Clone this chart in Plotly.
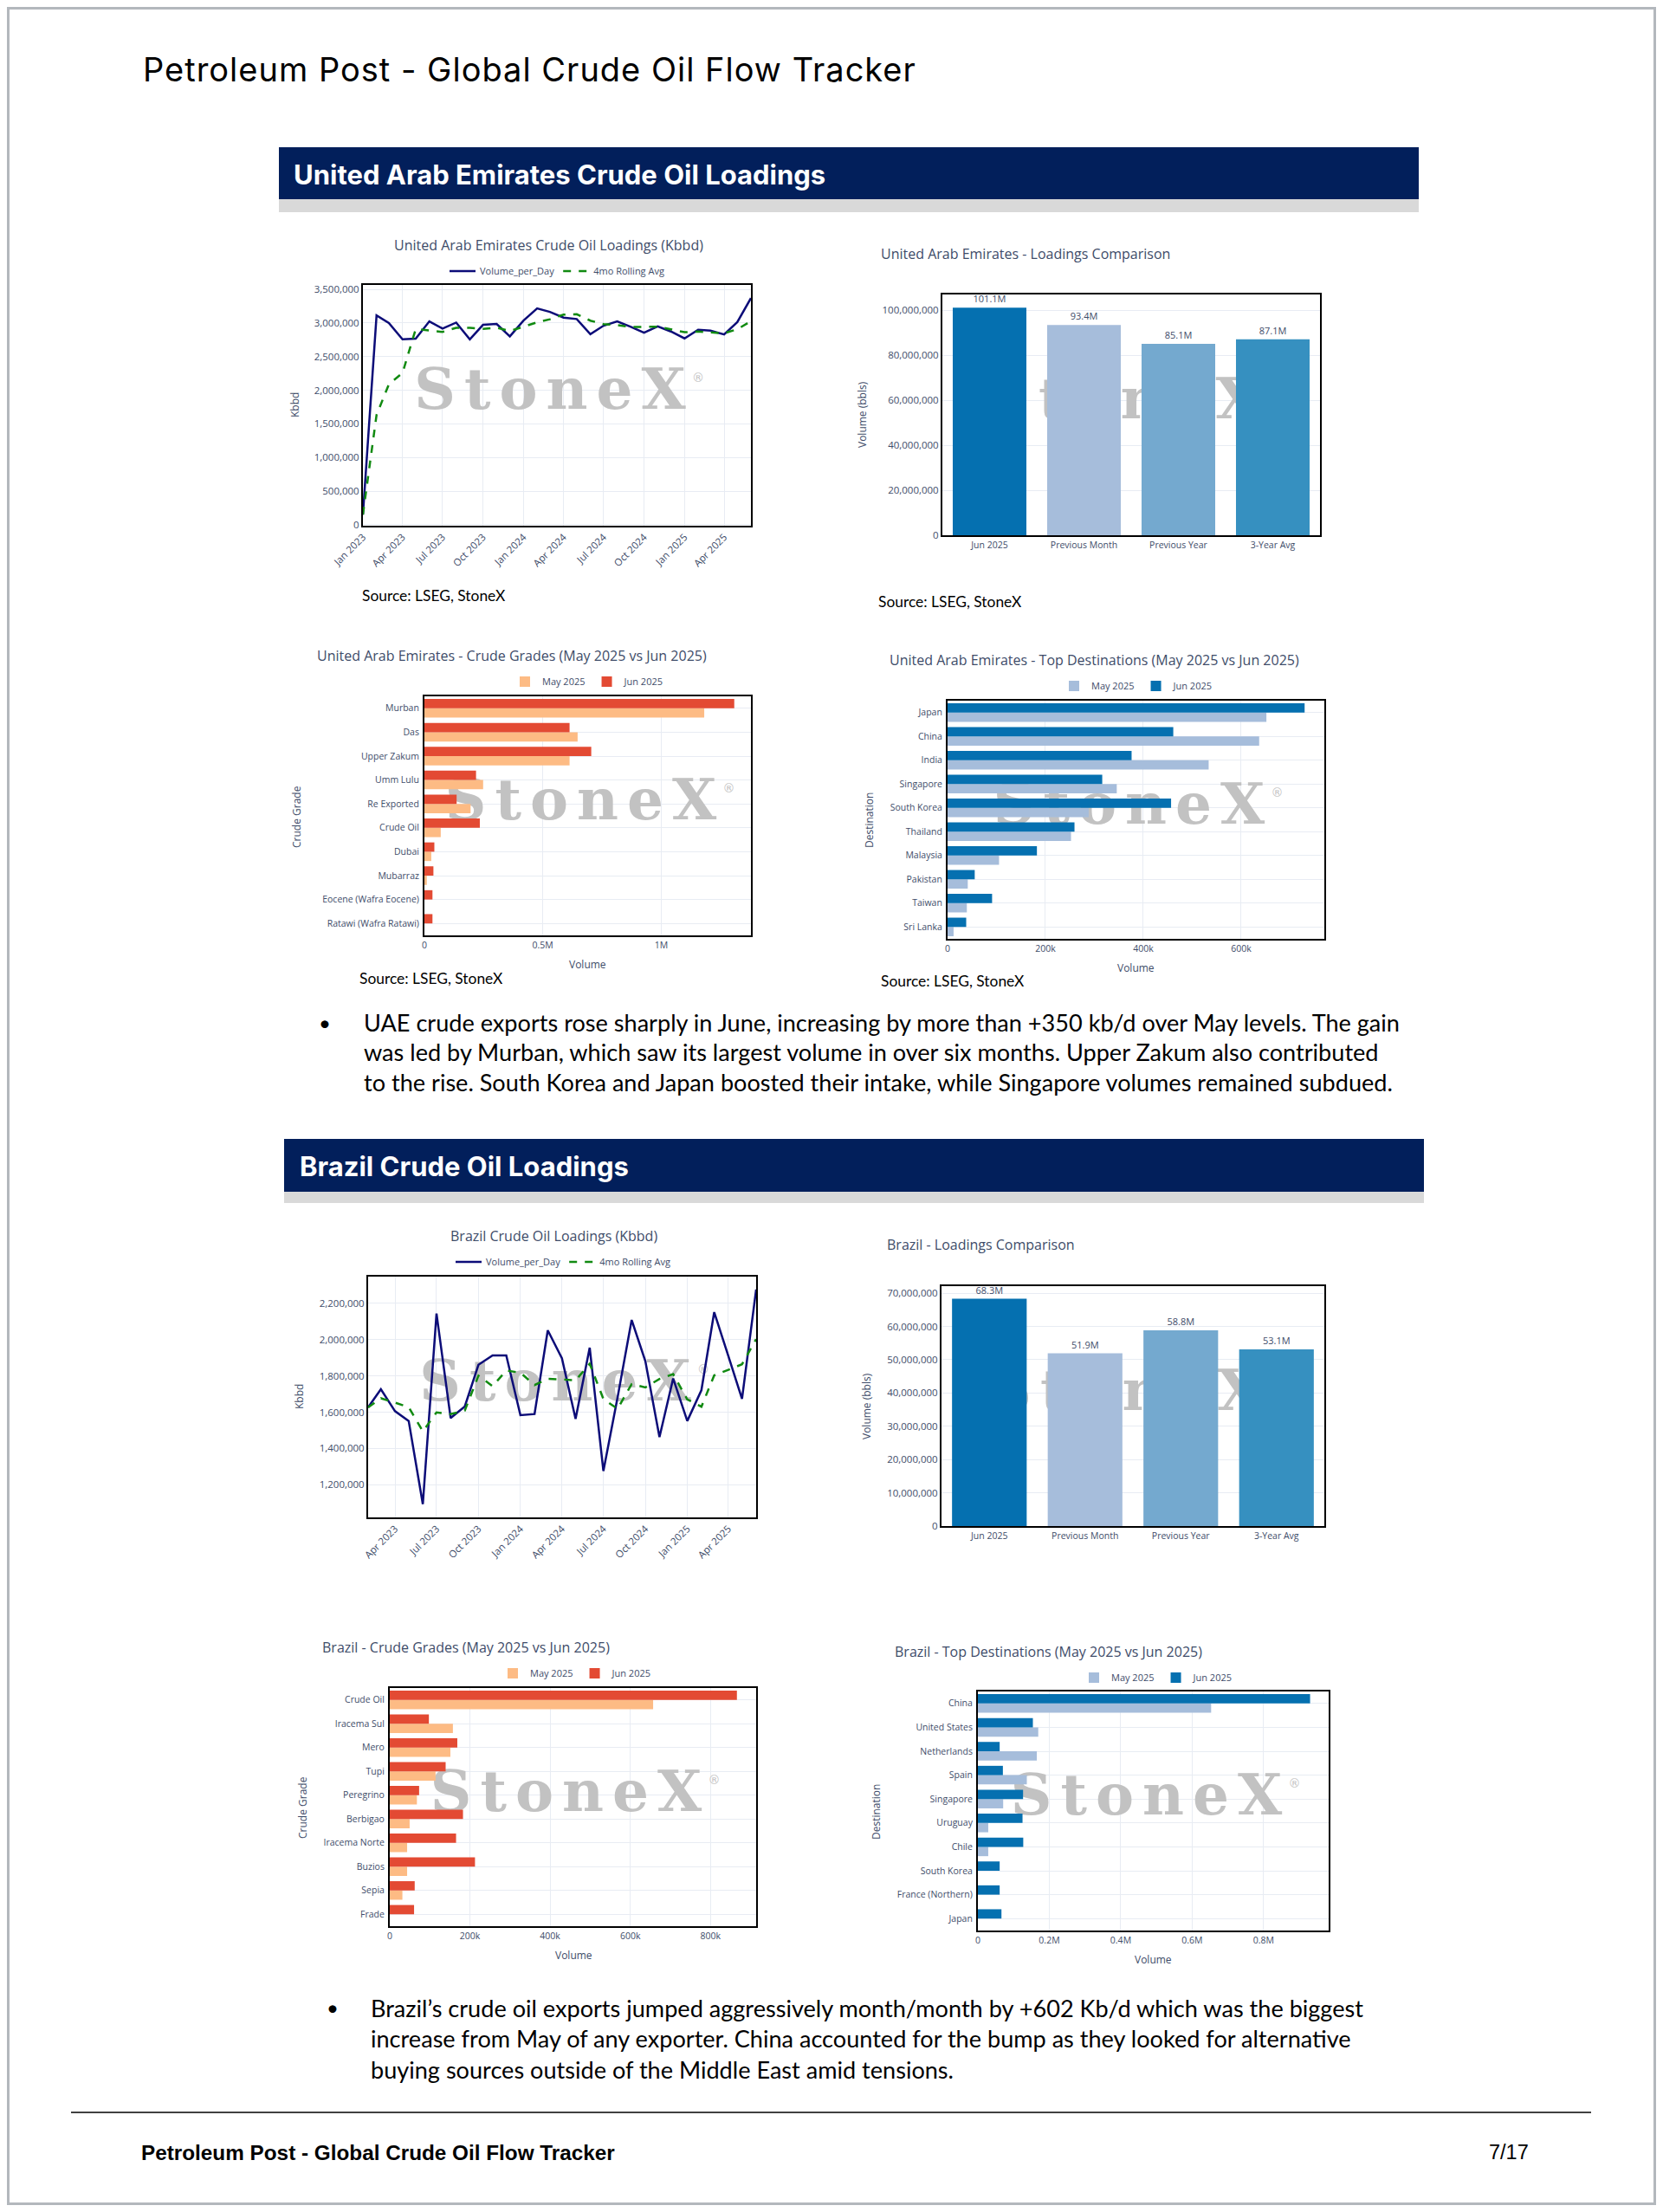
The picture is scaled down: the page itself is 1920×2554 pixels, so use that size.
import plotly.graph_objects as go

# page is 1920x2554; the figure sits inside the default 8px body margin
PAGE_W, PAGE_H = 1920, 2554
OX, OY = 8, 8
FW, FH = PAGE_W - 2 * OX, PAGE_H - 2 * OY

# ----------------------------- data -----------------------------
UAE_MONTHS = ["2023-01", "2023-02", "2023-03", "2023-04", "2023-05", "2023-06", "2023-07", "2023-08",
              "2023-09", "2023-10", "2023-11", "2023-12", "2024-01", "2024-02", "2024-03", "2024-04",
              "2024-05", "2024-06", "2024-07", "2024-08", "2024-09", "2024-10", "2024-11", "2024-12",
              "2025-01", "2025-02", "2025-03", "2025-04", "2025-05", "2025-06"]
UAE_VOLUME = [150000, 3113000, 3000000, 2757000, 2766000, 3023000, 2916000, 3006000,
              2757000, 2972000, 2985000, 2800000, 3036000, 3217000, 3165000, 3079000,
              3058000, 2834000, 2959000, 3023000, 2942000, 2856000, 2950000, 2873000,
              2770000, 2899000, 2886000, 2830000, 3013000, 3370000]
UAE_ROLLING = [150000, 1632000, 2088000, 2255000, 2909000, 2887000, 2866000, 2928000,
               2926000, 2913000, 2930000, 2879000, 2948000, 3010000, 3055000, 3124000,
               3130000, 3034000, 2983000, 2969000, 2940000, 2945000, 2943000, 2905000,
               2862000, 2873000, 2857000, 2846000, 2907000, 3025000]

BRA_MONTHS = ["2023-02", "2023-03", "2023-04", "2023-05", "2023-06", "2023-07", "2023-08",
              "2023-09", "2023-10", "2023-11", "2023-12", "2024-01", "2024-02", "2024-03", "2024-04",
              "2024-05", "2024-06", "2024-07", "2024-08", "2024-09", "2024-10", "2024-11", "2024-12",
              "2025-01", "2025-02", "2025-03", "2025-04", "2025-05", "2025-06"]
BRA_VOLUME = [1627000, 1727000, 1606000, 1552000, 1093000, 2144000, 1568000,
              1632000, 1862000, 1913000, 1913000, 1584000, 1590000, 2052000, 1898000,
              1563000, 1956000, 1276000, 1680000, 2109000, 1882000, 1463000, 1786000,
              1552000, 1722000, 2152000, 1910000, 1674000, 2277000]
BRA_ROLLING = [1627000, 1677000, 1653000, 1628000, 1494500, 1598750, 1589250,
               1609250, 1801500, 1743750, 1830000, 1818000, 1750000, 1784750, 1781000,
               1775750, 1867250, 1673250, 1618750, 1755250, 1736750, 1783500, 1810000,
               1670750, 1630750, 1803000, 1834000, 1864500, 2003250]

COMPARE_CATS = ["Jun 2025", "Previous Month", "Previous Year", "3-Year Avg"]
UAE_COMPARE = [101.1e6, 93.4e6, 85.1e6, 87.1e6]
BRA_COMPARE = [68.3e6, 51.9e6, 58.8e6, 53.1e6]

UAE_GRADES = ["Murban", "Das", "Upper Zakum", "Umm Lulu", "Re Exported", "Crude Oil", "Dubai",
              "Mubarraz", "Eocene (Wafra Eocene)", "Ratawi (Wafra Ratawi)"]
UAE_GRADES_MAY = [1181700, 647000, 613000, 248000, 195000, 69000, 29000, 10000, 0, 0]
UAE_GRADES_JUN = [1308500, 613000, 704600, 218000, 136000, 234000, 42000, 38000, 34000, 34000]

UAE_DEST = ["Japan", "China", "India", "Singapore", "South Korea", "Thailand", "Malaysia",
            "Pakistan", "Taiwan", "Sri Lanka"]
UAE_DEST_MAY = [651600, 636800, 533600, 345800, 288400, 252300, 105200, 41300, 39400, 12300]
UAE_DEST_JUN = [729700, 461300, 376100, 316100, 456800, 259400, 182600, 55500, 91000, 38100]

BRA_GRADES = ["Crude Oil", "Iracema Sul", "Mero", "Tupi", "Peregrino", "Berbigao", "Iracema Norte",
              "Buzios", "Sepia", "Frade"]
BRA_GRADES_MAY = [657000, 157500, 151200, 114200, 67700, 49600, 43300, 43300, 31500, 0]
BRA_GRADES_JUN = [866000, 97600, 168500, 139400, 73200, 182700, 165400, 212600, 62200, 60600]

BRA_DEST = ["China", "United States", "Netherlands", "Spain", "Singapore", "Uruguay", "Chile",
            "South Korea", "France (Northern)", "Japan"]
BRA_DEST_MAY = [653000, 169000, 165000, 137000, 70800, 29000, 29000, 0, 0, 0]
BRA_DEST_JUN = [930000, 154000, 61000, 70000, 126500, 125000, 127000, 61000, 61000, 66000]

UAE_LINE_YTICKS = [0, 500000, 1000000, 1500000, 2000000, 2500000, 3000000, 3500000]
BRA_LINE_YTICKS = [1200000, 1400000, 1600000, 1800000, 2000000, 2200000]
UAE_CMP_YTICKS = [0, 20e6, 40e6, 60e6, 80e6, 100e6]
BRA_CMP_YTICKS = [0, 10e6, 20e6, 30e6, 40e6, 50e6, 60e6, 70e6]
UAE_GRADE_XTICKS = [0, 500000, 1000000]
UAE_GRADE_XLABELS = ["0", "0.5M", "1M"]
UAE_DEST_XTICKS = [0, 200000, 400000, 600000]
UAE_DEST_XLABELS = ["0", "200k", "400k", "600k"]
BRA_GRADE_XTICKS = [0, 200000, 400000, 600000, 800000]
BRA_GRADE_XLABELS = ["0", "200k", "400k", "600k", "800k"]
BRA_DEST_XTICKS = [0, 200000, 400000, 600000, 800000]
BRA_DEST_XLABELS = ["0", "0.2M", "0.4M", "0.6M", "0.8M"]

# ----------------------------- styling -----------------------------
FONT = "Open Sans, Verdana, Arial, sans-serif"
TXT = "#3e4c69"
GRID = "#e8ecf3"
NAVY_BAND = "#021f5b"
MAY_RED, JUN_RED = "#fdbb84", "#e34a33"
MAY_BLUE, JUN_BLUE = "#a6bddb", "#0570b0"
CMP_COLORS = ["#0570b0", "#a6bddb", "#74a9cf", "#3690c0"]
WM_COLOR = "#c2c2c2"


def px(x):
    return (x - OX) / FW


def py(y):
    return 1 - (y - OY) / FH


# plot boxes in page pixels: (left, top, right, bottom)
BOXES = {
    1: (419, 329, 867, 607),
    2: (1088, 340, 1524, 618),
    3: (490, 804, 867, 1080),
    4: (1094, 809, 1529, 1084),
    5: (425, 1474, 873, 1752),
    6: (1087, 1485, 1529, 1762),
    7: (450, 1949, 873, 2224),
    8: (1129, 1953, 1534, 2229),
}


def sid(k):
    return "" if k == 1 else str(k)


layout = dict(
    width=FW, height=FH, margin=dict(l=0, r=0, t=0, b=0, pad=0, autoexpand=False),
    autosize=False,
    paper_bgcolor="white", plot_bgcolor="white",
    font=dict(family=FONT, color=TXT, size=11),
    barmode="group", bargap=0.22, bargroupgap=0.0,
    showlegend=True, hovermode=False,
)

for k, (x0, y0, x1, y1) in BOXES.items():
    b = k + 8
    xd = [px(x0), px(x1)]
    yd = [py(y1), py(y0)]
    layout[f"xaxis{b}"] = dict(domain=xd, range=[0, 1], visible=False, anchor=f"y{b}",
                               showgrid=False, zeroline=False, fixedrange=True, automargin=False)
    layout[f"yaxis{b}"] = dict(domain=yd, range=[0, 1], visible=False, anchor=f"x{b}",
                               showgrid=False, zeroline=False, fixedrange=True, automargin=False)
    common = dict(showline=True, mirror=True, linecolor="black", linewidth=2,
                  showgrid=True, gridcolor=GRID, gridwidth=1, zeroline=False, ticks="",
                  tickfont=dict(family=FONT, size=11.5, color=TXT), fixedrange=True, automargin=False)
    layout[f"xaxis{sid(k)}"] = dict(domain=xd, anchor=("y" if k == 1 else f"y{k}"),
                                    overlaying=f"x{b}", **common)
    layout[f"yaxis{sid(k)}"] = dict(domain=yd, anchor=("x" if k == 1 else f"x{k}"),
                                    overlaying=f"y{b}", **common)

# line charts
for k, start, rng, yt in [(1, "2023-01-01", [-15000, 3565000], UAE_LINE_YTICKS),
                          (5, "2023-02-01", [1020000, 2348000], BRA_LINE_YTICKS)]:
    layout[f"xaxis{sid(k)}"].update(type="date", range=[start, "2025-06-01"], dtick="M3",
                                    tick0="2023-01-01", tickformat="%b %Y", tickangle=-45)
    layout[f"yaxis{sid(k)}"].update(range=rng, tickvals=yt, tickformat=",")

# comparison charts
for k, top, yt in [(2, 107e6, UAE_CMP_YTICKS), (6, 72.1e6, BRA_CMP_YTICKS)]:
    layout[f"xaxis{k}"].update(type="category", categoryorder="array", categoryarray=COMPARE_CATS,
                               showgrid=False, tickfont=dict(family=FONT, size=10.5, color=TXT))
    layout[f"yaxis{k}"].update(range=[0, top], tickvals=yt, tickformat=",")

# horizontal bar charts
for k, cats, xr, xt, xl in [(3, UAE_GRADES, 1.379e6, UAE_GRADE_XTICKS, UAE_GRADE_XLABELS),
                            (4, UAE_DEST, 770000, UAE_DEST_XTICKS, UAE_DEST_XLABELS),
                            (7, BRA_GRADES, 914000, BRA_GRADE_XTICKS, BRA_GRADE_XLABELS),
                            (8, BRA_DEST, 982000, BRA_DEST_XTICKS, BRA_DEST_XLABELS)]:
    layout[f"xaxis{k}"].update(range=[0, xr], tickvals=xt, ticktext=xl,
                               tickfont=dict(family=FONT, size=10.5, color=TXT))
    layout[f"yaxis{k}"].update(type="category", categoryorder="array",
                               categoryarray=list(reversed(cats)), ticklabelstandoff=2,
                               tickfont=dict(family=FONT, size=10.5, color=TXT))

# legends
LEG = [("legend", 643, 313), ("legend2", 679, 787), ("legend3", 1313, 792),
       ("legend4", 650, 1457), ("legend5", 665, 1932), ("legend6", 1336, 1937)]
for name, lx, ly in LEG:
    layout[name] = dict(orientation="h", x=px(lx), y=py(ly), xanchor="center", yanchor="middle",
                        bgcolor="rgba(0,0,0,0)", font=dict(family=FONT, size=11, color=TXT),
                        itemwidth=30, tracegroupgap=0)

fig = go.Figure(layout=layout)

# watermark traces (drawn in base subplots, beneath the data)
WM = "<b><span style='letter-spacing:10px'>Stone</span>X</b>"
for k, (x0, y0, x1, y1) in BOXES.items():
    b = k + 8
    bw, bh = x1 - x0, y1 - y0
    fig.add_trace(go.Scatter(x=[0.5 - 8 / bw], y=[0.545], mode="text", text=[WM],
                             textfont=dict(family="DejaVu Serif, Liberation Serif, serif", size=66,
                                           color=WM_COLOR),
                             xaxis=f"x{b}", yaxis=f"y{b}", showlegend=False, hoverinfo="skip",
                             cliponaxis=False))
    fig.add_trace(go.Scatter(x=[0.5 + 163 / bw], y=[0.545 + 18 / bh], mode="text", text=["®"],
                             textfont=dict(family="DejaVu Sans, sans-serif", size=14, color=WM_COLOR),
                             xaxis=f"x{b}", yaxis=f"y{b}", showlegend=False, hoverinfo="skip",
                             cliponaxis=False))

# line charts
for k, months, vol, roll, leg in [(1, UAE_MONTHS, UAE_VOLUME, UAE_ROLLING, "legend"),
                                  (5, BRA_MONTHS, BRA_VOLUME, BRA_ROLLING, "legend4")]:
    ax = sid(k)
    fig.add_trace(go.Scatter(x=months, y=vol, mode="lines", name="Volume_per_Day",
                             line=dict(color="#0c0c78", width=2.5), xaxis=f"x{ax}", yaxis=f"y{ax}",
                             legend=leg))
    fig.add_trace(go.Scatter(x=months, y=roll, mode="lines", name="4mo Rolling Avg",
                             line=dict(color="#118a11", width=2.5, dash="dash"), xaxis=f"x{ax}",
                             yaxis=f"y{ax}", legend=leg))

# comparison bars
for k, vals in [(2, UAE_COMPARE), (6, BRA_COMPARE)]:
    fig.add_trace(go.Bar(x=COMPARE_CATS, y=vals, marker=dict(color=CMP_COLORS, line=dict(width=0)),
                         text=[f"{v / 1e6:.1f}M" for v in vals], textposition="outside",
                         textfont=dict(family=FONT, size=11, color=TXT), cliponaxis=False,
                         xaxis=f"x{k}", yaxis=f"y{k}", showlegend=False))

# grouped horizontal bars
for k, cats, may, jun, cm, cj, leg in [
        (3, UAE_GRADES, UAE_GRADES_MAY, UAE_GRADES_JUN, MAY_RED, JUN_RED, "legend2"),
        (4, UAE_DEST, UAE_DEST_MAY, UAE_DEST_JUN, MAY_BLUE, JUN_BLUE, "legend3"),
        (7, BRA_GRADES, BRA_GRADES_MAY, BRA_GRADES_JUN, MAY_RED, JUN_RED, "legend5"),
        (8, BRA_DEST, BRA_DEST_MAY, BRA_DEST_JUN, MAY_BLUE, JUN_BLUE, "legend6")]:
    fig.add_trace(go.Bar(y=cats, x=may, orientation="h", name="May 2025",
                         marker=dict(color=cm, line=dict(width=0)),
                         xaxis=f"x{k}", yaxis=f"y{k}", legend=leg))
    fig.add_trace(go.Bar(y=cats, x=jun, orientation="h", name="Jun 2025",
                         marker=dict(color=cj, line=dict(width=0)),
                         xaxis=f"x{k}", yaxis=f"y{k}", legend=leg))

# ----------------------------- page decoration -----------------------------
shapes = []


def rect(x0, y0, x1, y1, fill):
    shapes.append(dict(type="rect", xref="paper", yref="paper", x0=px(x0), x1=px(x1), y0=py(y1),
                       y1=py(y0), fillcolor=fill, layer="below", line=dict(width=0)))


rect(322, 170, 1638, 230, NAVY_BAND)
rect(322, 230, 1638, 245, "#d9d9d9")
rect(328, 1315, 1644, 1376, NAVY_BAND)
rect(328, 1376, 1644, 1389, "#d9d9d9")
shapes.append(dict(type="line", xref="paper", yref="paper", x0=px(82), x1=px(1837), y0=py(2439),
                   y1=py(2439), line=dict(color="black", width=1.5)))
shapes.append(dict(type="rect", xref="paper", yref="paper", x0=0, x1=1, y0=0, y1=1,
                   line=dict(color="#b3b8bd", width=6), fillcolor="rgba(0,0,0,0)"))

ann = []


def text(t, x, y, size, color="black", family="Lato, sans-serif", xanchor="left", angle=0):
    ann.append(dict(text=t, x=px(x), y=py(y), xref="paper", yref="paper", showarrow=False,
                    xanchor=xanchor, yanchor="middle", textangle=angle,
                    font=dict(family=family, size=size, color=color)))


text("<span style='letter-spacing:1px'>Petroleum Post - Global Crude Oil Flow Tracker</span>",
     163, 80, 38, family="Inter, sans-serif")
text("<b>United Arab Emirates Crude Oil Loadings</b>", 337, 201, 31, color="white",
     family="Inter, sans-serif")
text("<b>Brazil Crude Oil Loadings</b>", 344, 1346, 31, color="white", family="Inter, sans-serif")

TITLES = [("United Arab Emirates Crude Oil Loadings (Kbbd)", 633, 283, "center"),
          ("United Arab Emirates - Loadings Comparison", 1015, 293, "left"),
          ("United Arab Emirates - Crude Grades (May 2025 vs Jun 2025)", 364, 757, "left"),
          ("United Arab Emirates - Top Destinations (May 2025 vs Jun 2025)", 1025, 762, "left"),
          ("Brazil Crude Oil Loadings (Kbbd)", 639, 1427, "center"),
          ("Brazil - Loadings Comparison", 1022, 1437, "left"),
          ("Brazil - Crude Grades (May 2025 vs Jun 2025)", 370, 1902, "left"),
          ("Brazil - Top Destinations (May 2025 vs Jun 2025)", 1031, 1907, "left")]
for t, x, y, a in TITLES:
    text(t, x, y, 16, color=TXT, family=FONT, xanchor=a)

for t, x, y in [("Kbbd", 340, 468), ("Volume (bbls)", 995, 479), ("Crude Grade", 343, 943),
                ("Destination", 1004, 947), ("Kbbd", 345, 1613), ("Volume (bbls)", 1000, 1624),
                ("Crude Grade", 349, 2087), ("Destination", 1011, 2092)]:
    text(t, x, y, 12, color=TXT, family=FONT, xanchor="center", angle=-90)

for x, y in [(678, 1113), (1311, 1117), (662, 2257), (1331, 2262)]:
    text("Volume", x, y, 12, color=TXT, family=FONT, xanchor="center")

for x, y in [(416, 687), (1012, 694), (413, 1129), (1015, 1132)]:
    text("Source: LSEG, StoneX", x, y, 17.4)

UAE_TEXT = ["UAE crude exports rose sharply in June, increasing by more than +350 kb/d over May levels. The gain",
            "was led by Murban, which saw its largest volume in over six months. Upper Zakum also contributed",
            "to the rise. South Korea and Japan boosted their intake, while Singapore volumes remained subdued."]
BRA_TEXT = ["Brazil\u2019s crude oil exports jumped aggressively month/month by +602 Kb/d which was the biggest",
            "increase from May of any exporter. China accounted for the bump as they looked for alternative",
            "buying sources outside of the Middle East amid tensions."]
text("\u2022", 366, 1180, 24)
for i, line in enumerate(UAE_TEXT):
    text(line, 418, 1180 + 34.5 * i, 27.1)
text("\u2022", 375, 2317, 24)
for i, line in enumerate(BRA_TEXT):
    text(line, 426, 2318 + 35.5 * i, 27.1)

text("<b>Petroleum Post - Global Crude Oil Flow Tracker</b>", 161, 2485, 24.3,
     family="Liberation Sans, Arial, sans-serif")
text("7/17", 1767, 2485, 23.5, family="Liberation Sans, Arial, sans-serif", xanchor="right")

fig.update_layout(shapes=shapes, annotations=ann)
fig.write_html("out.html", config={"displayModeBar": False})
